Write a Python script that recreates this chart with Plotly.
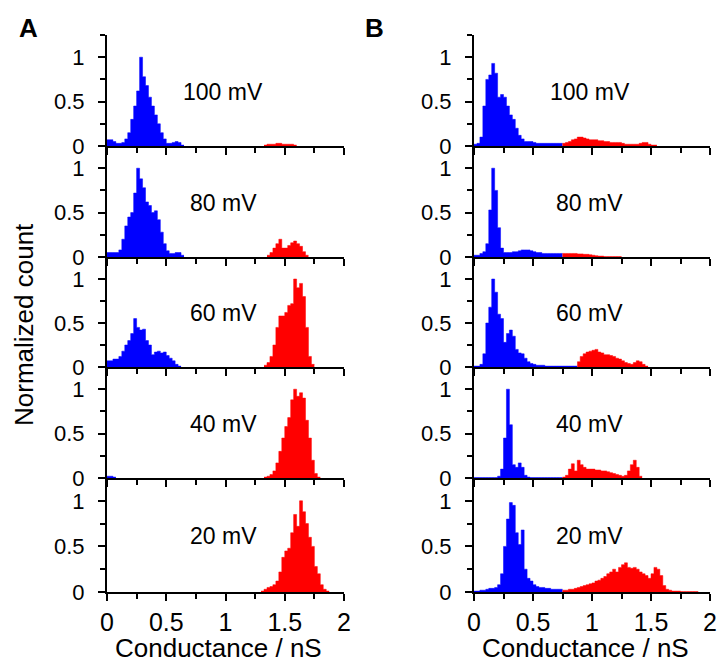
import plotly.graph_objects as go

BIN = 0.025
VOLTAGES = ["100 mV", "80 mV", "60 mV", "40 mV", "20 mV"]
X_TICKS = [0, 0.5, 1, 1.5, 2]
Y_TICKS = [0, 0.5, 1]

# ---- Panel A (start of first bin, normalized counts per 0.025 nS bin) ----
A100_blue_start = 0.0
A100_blue = [0.07, 0.07, 0.05, 0.03, 0.03, 0.04, 0.08, 0.15, 0.3, 0.45, 0.62, 1.0, 0.78, 0.68,
             0.55, 0.45, 0.35, 0.25, 0.15, 0.08, 0.03, 0.03, 0.04, 0.05, 0.04, 0.01]
A100_red_start = 1.325
A100_red = [0.01, 0.02, 0.02, 0.02, 0.03, 0.03, 0.02, 0.02, 0.02, 0.02, 0.01]

A80_blue_start = 0.0
A80_blue = [0.05, 0.05, 0.05, 0.05, 0.08, 0.2, 0.35, 0.45, 0.5, 0.72, 1.0, 0.88, 0.78, 0.62,
            0.58, 0.5, 0.52, 0.42, 0.28, 0.15, 0.07, 0.04, 0.04, 0.05, 0.05, 0.02]
A80_red_start = 1.35
A80_red = [0.02, 0.05, 0.1, 0.15, 0.2, 0.1, 0.1, 0.13, 0.16, 0.18, 0.15, 0.12, 0.06, 0.02]

A60_blue_start = 0.0
A60_blue = [0.07, 0.07, 0.09, 0.09, 0.12, 0.18, 0.25, 0.3, 0.38, 0.55, 0.45, 0.42, 0.43, 0.3,
            0.25, 0.14, 0.17, 0.18, 0.16, 0.17, 0.13, 0.1, 0.07, 0.03, 0.01]
A60_red_start = 1.325
A60_red = [0.02, 0.05, 0.12, 0.25, 0.45, 0.58, 0.58, 0.62, 0.7, 0.72, 1.0, 0.9, 0.95, 0.8,
           0.45, 0.12, 0.03]

A40_blue_start = 0.0
A40_blue = [0.02, 0.02, 0.01]
A40_red_start = 1.325
A40_red = [0.01, 0.02, 0.04, 0.08, 0.17, 0.3, 0.45, 0.58, 0.68, 0.88, 1.0, 0.92, 0.96, 0.9,
           0.65, 0.45, 0.2, 0.05, 0.01]

A20_blue_start = 0.0
A20_blue = []
A20_red_start = 1.3
A20_red = [0.01, 0.03, 0.05, 0.06, 0.08, 0.12, 0.22, 0.38, 0.45, 0.48, 0.65, 0.85, 0.72, 1.0,
           0.88, 0.75, 0.6, 0.5, 0.28, 0.2, 0.08, 0.03, 0.01]

# ---- Panel B ----
B100_blue_start = 0.0
B100_blue = [0.02, 0.03, 0.1, 0.45, 0.75, 0.8, 0.93, 0.82, 0.55, 0.58, 0.55, 0.45, 0.35, 0.3,
             0.2, 0.12, 0.08, 0.05, 0.05, 0.05, 0.04, 0.03, 0.03, 0.03, 0.03, 0.03, 0.03, 0.03,
             0.03, 0.03]
B100_red_start = 0.75
B100_red = [0.03, 0.04, 0.05, 0.07, 0.08, 0.1, 0.1, 0.09, 0.08, 0.07, 0.07, 0.07, 0.06, 0.06,
            0.05, 0.05, 0.04, 0.04, 0.04, 0.04, 0.03, 0.02, 0.02, 0.02, 0.02, 0.02, 0.03, 0.04,
            0.04, 0.02, 0.01, 0.01]

B80_blue_start = 0.0
B80_blue = [0.02, 0.02, 0.04, 0.06, 0.15, 0.53, 1.0, 0.75, 0.33, 0.1, 0.05, 0.05, 0.05, 0.06,
            0.06, 0.07, 0.08, 0.08, 0.08, 0.07, 0.06, 0.05, 0.05, 0.04, 0.04, 0.04, 0.04, 0.04,
            0.04, 0.04]
B80_red_start = 0.75
B80_red = [0.04, 0.04, 0.04, 0.04, 0.04, 0.035, 0.035, 0.03, 0.03, 0.025, 0.02, 0.015, 0.01,
           0.01, 0.005, 0.005, 0.005, 0.005, 0.005, 0.005]

B60_blue_start = 0.0
B60_blue = [0.01, 0.01, 0.03, 0.15, 0.5, 0.68, 1.0, 0.85, 0.6, 0.55, 0.28, 0.38, 0.42, 0.35,
            0.2, 0.16, 0.15, 0.1, 0.06, 0.04, 0.03, 0.02, 0.02, 0.02, 0.01, 0.01, 0.01, 0.01,
            0.01, 0.01, 0.01, 0.01, 0.01, 0.01, 0.01]
B60_red_start = 0.875
B60_red = [0.06, 0.12, 0.15, 0.17, 0.18, 0.19, 0.2, 0.17, 0.16, 0.14, 0.14, 0.13, 0.12, 0.1,
           0.09, 0.07, 0.05, 0.04, 0.03, 0.05, 0.07, 0.06, 0.03, 0.01]

B40_blue_start = 0.0
B40_blue = [0.005, 0.005, 0.005, 0.005, 0.005, 0.005, 0.005, 0.005, 0.02, 0.1, 0.45, 1.0, 0.6,
            0.15, 0.12, 0.17, 0.12, 0.03, 0.01, 0.005, 0.005, 0.005, 0.005, 0.005, 0.005,
            0.005, 0.005, 0.005, 0.005, 0.005]
B40_red_start = 0.75
B40_red = [0.01, 0.03, 0.1, 0.16, 0.08, 0.2, 0.15, 0.12, 0.1, 0.1, 0.1, 0.09, 0.09, 0.08, 0.08,
           0.07, 0.06, 0.05, 0.04, 0.03, 0.02, 0.03, 0.08, 0.15, 0.2, 0.12, 0.02]

B20_blue_start = 0.0
B20_blue = [0.01, 0.01, 0.02, 0.02, 0.03, 0.04, 0.04, 0.05, 0.08, 0.2, 0.5, 0.8, 0.98, 0.95,
            0.65, 0.52, 0.68, 0.25, 0.15, 0.12, 0.08, 0.06, 0.05, 0.05, 0.04, 0.04, 0.03, 0.03,
            0.03, 0.03]
B20_red_start = 0.75
B20_red = [0.02, 0.02, 0.03, 0.03, 0.04, 0.05, 0.06, 0.07, 0.08, 0.09, 0.1, 0.12, 0.13, 0.15,
           0.17, 0.2, 0.22, 0.25, 0.22, 0.27, 0.3, 0.32, 0.27, 0.26, 0.27, 0.25, 0.22, 0.2, 0.18,
           0.15, 0.2, 0.27, 0.25, 0.18, 0.07, 0.03, 0.02, 0.01, 0.01, 0.01, 0.005, 0.005, 0.005,
           0.005, 0.005, 0.005]

PANEL_A = [(A100_blue_start, A100_blue, A100_red_start, A100_red),
           (A80_blue_start, A80_blue, A80_red_start, A80_red),
           (A60_blue_start, A60_blue, A60_red_start, A60_red),
           (A40_blue_start, A40_blue, A40_red_start, A40_red),
           (A20_blue_start, A20_blue, A20_red_start, A20_red)]
PANEL_B = [(B100_blue_start, B100_blue, B100_red_start, B100_red),
           (B80_blue_start, B80_blue, B80_red_start, B80_red),
           (B60_blue_start, B60_blue, B60_red_start, B60_red),
           (B40_blue_start, B40_blue, B40_red_start, B40_red),
           (B20_blue_start, B20_blue, B20_red_start, B20_red)]

# ---------------- layout geometry (pixels) ----------------
W, H = 717, 662
COL_X = [(107, 344), (474, 710)]
ROW_Y = [(35, 146), (146, 257), (257, 367), (367, 478), (478, 592)]
FONT = "Liberation Sans, Arial, sans-serif"
BLUE = "#0000FF"
RED = "#FF0000"


def step_edges(start, vals):
    """Histogram drawn as a filled step curve: bin edges and bin heights."""
    xs = [start + i * BIN for i in range(len(vals) + 1)]
    ys = list(vals) + [vals[-1]]
    return xs, ys


fig = go.Figure()
layout = {}
annotations = []
idx = 0
for c, panel in enumerate([PANEL_A, PANEL_B]):
    for r, (bs, bv, rs, rv) in enumerate(panel):
        idx += 1
        xa = "x" if idx == 1 else f"x{idx}"
        ya = "y" if idx == 1 else f"y{idx}"
        for start, vals, col in ((bs, bv, BLUE), (rs, rv, RED)):
            if not vals:
                continue
            xs, ys = step_edges(start, vals)
            fig.add_trace(go.Scatter(x=xs, y=ys, mode="lines", line_shape="hv",
                                     line=dict(color=col, width=0.5), fill="tozeroy",
                                     fillcolor=col, xaxis=xa, yaxis=ya, showlegend=False,
                                     hoverinfo="x+y"))
        x0, x1 = COL_X[c]
        y0, y1 = ROW_Y[r]
        common = dict(showline=True, linecolor="black", linewidth=2, ticks="outside",
                      tickcolor="black", tickwidth=2, ticklen=7, showgrid=False,
                      zeroline=False, fixedrange=True)
        layout["xaxis" if idx == 1 else f"xaxis{idx}"] = dict(
            common, domain=[x0 / W, x1 / W], range=[0, 2], tickvals=X_TICKS,
            showticklabels=(r == 4), anchor=ya,
            tickfont=dict(family=FONT, size=25, color="black"),
            minor=dict(dtick=0.25, ticks="outside", ticklen=5, tickwidth=2,
                       tickcolor="black", showgrid=False))
        layout["yaxis" if idx == 1 else f"yaxis{idx}"] = dict(
            common, domain=[1 - y1 / H, 1 - y0 / H], range=[0, 1.25], tickvals=Y_TICKS,
            ticktext=["0", "0.5", "1"], anchor=xa, ticklabelstandoff=9,
            tickfont=dict(family=FONT, size=22, color="black"),
            minor=dict(dtick=0.25, ticks="outside", ticklen=5, tickwidth=2,
                       tickcolor="black", showgrid=False))
        annotations.append(dict(x=0.98, y=0.61, xref=xa, yref=ya, text=VOLTAGES[r],
                                showarrow=False, xanchor="center", yanchor="middle",
                                font=dict(family=FONT, size=23, color="black")))

# axis titles & panel letters
for cx in (218.5 / W, 585 / W):
    annotations.append(dict(x=cx, y=1 - 648 / H, xref="paper", yref="paper",
                            text="Conductance / nS", showarrow=False, xanchor="center",
                            yanchor="middle", font=dict(family=FONT, size=26, color="black")))
annotations.append(dict(x=24 / W, y=1 - 325 / H, xref="paper", yref="paper",
                        text="Normalized count", textangle=-90, showarrow=False,
                        xanchor="center", yanchor="middle",
                        font=dict(family=FONT, size=26, color="black")))
for letter, lx in (("A", 28), ("B", 374)):
    annotations.append(dict(x=lx / W, y=1 - 28 / H, xref="paper", yref="paper",
                            text=f"<b>{letter}</b>", showarrow=False, xanchor="center",
                            yanchor="middle", font=dict(family=FONT, size=26, color="black")))

fig.update_layout(**layout)
fig.update_layout(width=W, height=H, margin=dict(l=0, r=0, t=0, b=0, autoexpand=False),
                  paper_bgcolor="white", plot_bgcolor="white",
                  annotations=annotations)

fig.write_html("out.html", config={"displayModeBar": False},
               post_script="document.body.style.margin='0';document.body.style.overflow='hidden';")
